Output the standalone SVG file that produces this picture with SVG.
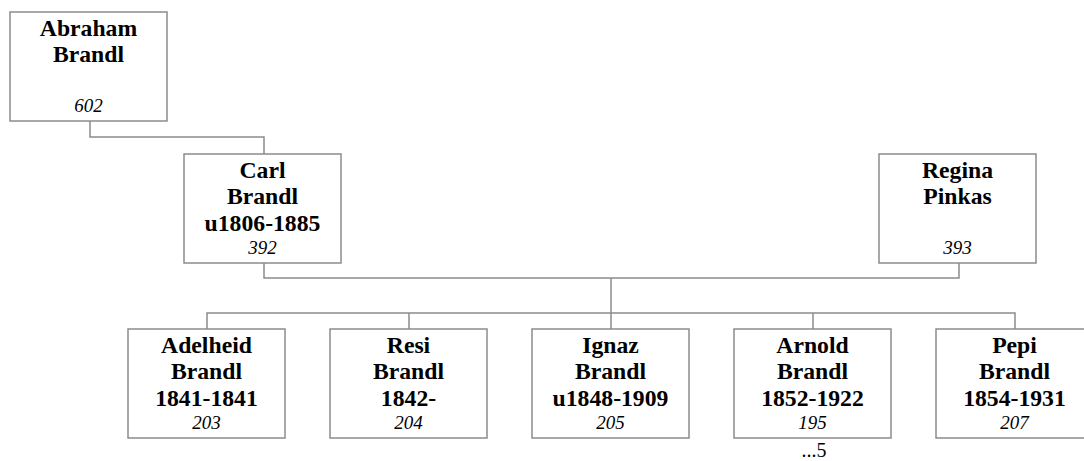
<svg xmlns="http://www.w3.org/2000/svg" width="1084" height="461" viewBox="0 0 1084 461">
<style>
.box{fill:#fff;stroke:#8c8c8c;stroke-width:1.5}
.n{font-family:"Liberation Serif","Times New Roman",serif;font-weight:bold;font-size:23.7px;text-anchor:middle;fill:#000}
.i{font-family:"Liberation Serif","Times New Roman",serif;font-style:italic;font-size:19px;text-anchor:middle;fill:#000}
.e{font-family:"Liberation Serif","Times New Roman",serif;font-size:20px;text-anchor:middle;fill:#000}
.c{fill:none;stroke:#8c8c8c;stroke-width:1.5}
</style>
<rect width="1084" height="461" fill="#fff"/>
<g id="connectors">
<path class="c" d="M90,121V137H264V154"/>
<path class="c" d="M264,263V278H959V263"/>
<path class="c" d="M611,278V313"/>
<path class="c" d="M207,329V313H1015V329"/>
<path class="c" d="M409,313V329M611,313V329M813,313V329"/>
</g>
<g id="abraham">
<rect class="box" x="10" y="12" width="157" height="109"/>
<text class="n" x="88.5" y="35.5">Abraham</text>
<text class="n" x="88.5" y="62">Brandl</text>
<text class="i" x="88.5" y="112">602</text>
</g>
<g id="carl">
<rect class="box" x="184" y="154" width="157" height="109"/>
<text class="n" x="262.5" y="177.5">Carl</text>
<text class="n" x="262.5" y="204">Brandl</text>
<text class="n" x="262.5" y="230.5">u1806-1885</text>
<text class="i" x="262.5" y="254">392</text>
</g>
<g id="regina">
<rect class="box" x="879" y="154" width="157" height="109"/>
<text class="n" x="957.5" y="177.5">Regina</text>
<text class="n" x="957.5" y="204">Pinkas</text>
<text class="i" x="957.5" y="254">393</text>
</g>
<g id="adelheid">
<rect class="box" x="128" y="329" width="157" height="109"/>
<text class="n" x="206.5" y="352.5">Adelheid</text>
<text class="n" x="206.5" y="379">Brandl</text>
<text class="n" x="206.5" y="405.5">1841-1841</text>
<text class="i" x="206.5" y="429">203</text>
</g>
<g id="resi">
<rect class="box" x="330" y="329" width="157" height="109"/>
<text class="n" x="408.5" y="352.5">Resi</text>
<text class="n" x="408.5" y="379">Brandl</text>
<text class="n" x="408.5" y="405.5">1842-</text>
<text class="i" x="408.5" y="429">204</text>
</g>
<g id="ignaz">
<rect class="box" x="532" y="329" width="157" height="109"/>
<text class="n" x="610.5" y="352.5">Ignaz</text>
<text class="n" x="610.5" y="379">Brandl</text>
<text class="n" x="610.5" y="405.5">u1848-1909</text>
<text class="i" x="610.5" y="429">205</text>
</g>
<g id="arnold">
<rect class="box" x="734" y="329" width="157" height="109"/>
<text class="n" x="812.5" y="352.5">Arnold</text>
<text class="n" x="812.5" y="379">Brandl</text>
<text class="n" x="812.5" y="405.5">1852-1922</text>
<text class="i" x="812.5" y="429">195</text>
<text class="e" x="814" y="457">...5</text>
</g>
<g id="pepi">
<rect class="box" x="936" y="329" width="157" height="109"/>
<text class="n" x="1014.5" y="352.5">Pepi</text>
<text class="n" x="1014.5" y="379">Brandl</text>
<text class="n" x="1014.5" y="405.5">1854-1931</text>
<text class="i" x="1014.5" y="429">207</text>
</g>
</svg>
